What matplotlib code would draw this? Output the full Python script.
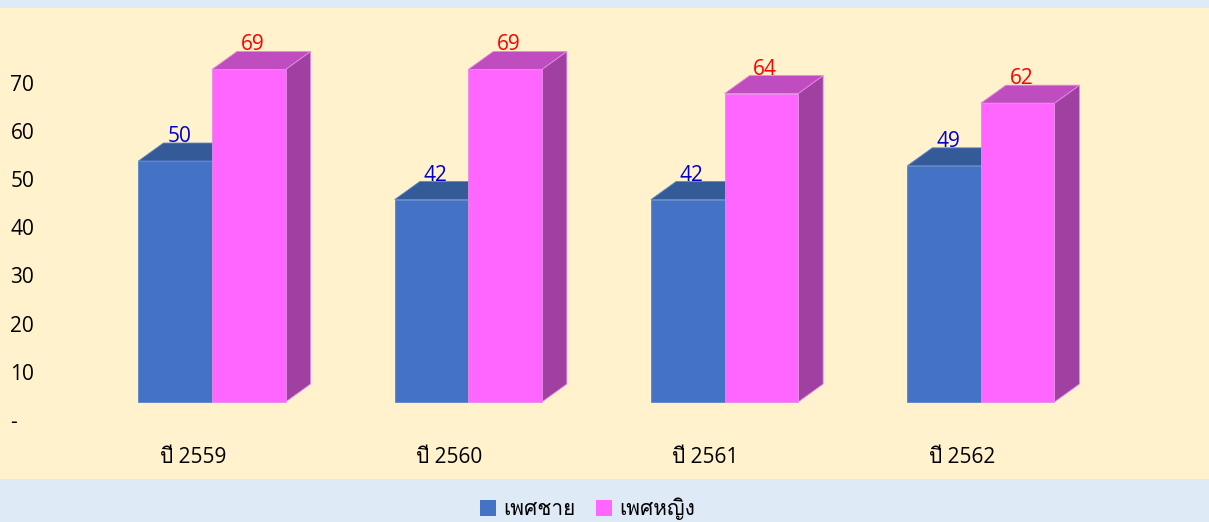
import matplotlib
matplotlib.use('Agg')
import matplotlib.pyplot as plt
import matplotlib.transforms as mtrans
from matplotlib import font_manager, ft2font
from matplotlib.patches import Rectangle, Polygon, Patch

# data
years = ['ปี 2559', 'ปี 2560', 'ปี 2561', 'ปี 2562']
male = [50, 42, 42, 49]
female = [69, 69, 64, 62]
series_names = ['เพศชาย', 'เพศหญิง']
yticks = [0, 10, 20, 30, 40, 50, 60, 70]
ytick_labels = ['-', '10', '20', '30', '40', '50', '60', '70']


def find_thai_font():
    # look for any installed font that has Thai glyphs
    for f in font_manager.fontManager.ttflist:
        try:
            ft = ft2font.FT2Font(f.fname)
            if ft.get_char_index(0x0E1B) and ft.get_char_index(0x0E28):
                return f.name
        except Exception:
            pass
    return None


thai = find_thai_font()
fams = ['Open Sans', 'DejaVu Sans']
if thai:
    fams = ['Open Sans', thai, 'DejaVu Sans']
plt.rcParams['font.family'] = fams

# colours
blue_front, blue_top = '#4472C4', '#345A98'
pink_front, pink_top, pink_side = '#FF66FF', '#BF4DBF', '#A040A0'

fig = plt.figure(figsize=(12.09, 5.22), dpi=100)
fig.patch.set_facecolor('#DEEAF6')

ax = fig.add_axes([0, 0, 1, 1])
ax.set_facecolor('none')
ax.set_xlim(-212 / 256.3, (1209 - 212) / 256.3)
ax.set_ylim((402 - 522) / 4.82, 402 / 4.82)
for s in ax.spines.values():
    s.set_visible(False)

# cream plot panel behind the bars
ax.add_patch(Rectangle((0, 1 - 479 / 522), 1, (479 - 8) / 522,
                       transform=fig.transFigure, fc='#FFF2CC', ec='none', zorder=-5))

w = 0.287    # width of one bar
dx = 0.0975  # depth offset in x
dy = 3.73    # depth offset in y


def bar3d(xc, h, front, top, side, edge):
    x0 = xc - w / 2
    x1 = xc + w / 2
    ax.add_patch(Polygon([(x1, 0), (x1 + dx, dy), (x1 + dx, h + dy), (x1, h)],
                         fc=side, ec=edge, lw=0.6))
    ax.add_patch(Polygon([(x0, h), (x0 + dx, h + dy), (x1 + dx, h + dy), (x1, h)],
                         fc=top, ec=edge, lw=0.6))
    ax.bar(xc, h, width=w, color=front, edgecolor=edge, linewidth=0.6)


for i in range(len(years)):
    bar3d(i - w / 2, male[i], blue_front, blue_top, blue_top, '#5B84CC')
    bar3d(i + w / 2, female[i], pink_front, pink_top, pink_side, '#E58AE5')
    ax.text(i - w / 2 + 0.015, male[i] + dy + 0.2, str(male[i]), color='#0000CC',
            fontsize=15, ha='center', va='baseline')
    ax.text(i + w / 2 + 0.015, female[i] + dy + 0.2, str(female[i]), color='#FF0000',
            fontsize=15, ha='center', va='baseline')
    ax.text(i - 0.075, -12.66, years[i], fontsize=15, ha='center', va='baseline')

ax.set_xticks([])
ax.set_yticks(yticks)
ax.set_yticklabels(ytick_labels)
ax.tick_params(axis='y', length=0, pad=-7.5, labelsize=15)
shift = mtrans.ScaledTranslation(0, -0.18, fig.dpi_scale_trans)
for lab in ax.get_yticklabels():
    lab.set_horizontalalignment('left')
    lab.set_transform(lab.get_transform() + shift)

handles = [Patch(fc=blue_front), Patch(fc=pink_front)]
fig.legend(handles, series_names, loc='center', bbox_to_anchor=(0.486, 1 - 509 / 522),
           ncol=2, frameon=False, fontsize=15, handlelength=0.75, handleheight=0.75,
           handletextpad=0.35, columnspacing=1.0)

fig.savefig('out.png', dpi=100, facecolor=fig.get_facecolor())
